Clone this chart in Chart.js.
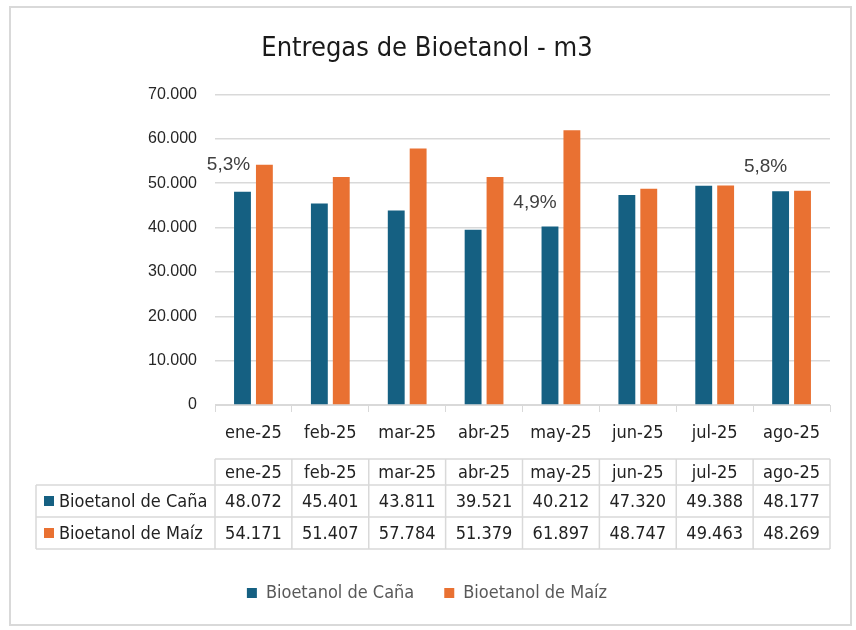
<!DOCTYPE html>
<html>
<head>
<meta charset="utf-8">
<script src="https://cdn.jsdelivr.net/npm/chart.js@4/dist/chart.umd.min.js"></script>
<style>
  html, body { margin: 0; padding: 0; background: #ffffff; }
  #wrap { width: 856px; height: 630px; position: relative; }
</style>
</head>
<body>
<div id="wrap"><canvas id="c" width="856" height="630"></canvas></div>
<script>
// ---- data ----
const categories = ['ene-25', 'feb-25', 'mar-25', 'abr-25', 'may-25', 'jun-25', 'jul-25', 'ago-25'];
const seriesNames = ['Bioetanol de Caña', 'Bioetanol de Maíz'];
const canaValues = [48072, 45401, 43811, 39521, 40212, 47320, 49388, 48177];
const maizValues = [54171, 51407, 57784, 51379, 61897, 48747, 49463, 48269];
const yTicks = [0, 10000, 20000, 30000, 40000, 50000, 60000, 70000];
const noteTexts = ['5,3%', '4,9%', '5,8%'];
const noteCategories = [0, 4, 7];

// ---- style ----
const colors = ['#156082', '#E97132'];
const noteOffsets = [[-14, -27], [-15, -24], [-15, -24]];
const narrow = "'Liberation Sans Narrow', 'DejaVu Sans Condensed', Arial, sans-serif";
const sans = "'Liberation Sans', Arial, sans-serif";

function fmt(v) {
  const s = String(Math.round(v));
  return s.replace(/\B(?=(\d{3})+(?!\d))/g, '.');
}

const framePlugin = {
  id: 'frame',
  beforeDraw(chart) {
    const ctx = chart.ctx;
    ctx.save();
    ctx.fillStyle = '#ffffff';
    ctx.fillRect(0, 0, chart.width, chart.height);
    ctx.strokeStyle = '#d9d9d9';
    ctx.lineWidth = 2;
    ctx.strokeRect(10, 7, 841, 618);
    ctx.restore();
  }
};

const tablePlugin = {
  id: 'dataTable',
  afterDraw(chart) {
    const ctx = chart.ctx;
    const area = chart.chartArea;
    const n = categories.length;
    const colW = (area.right - area.left) / n;
    const rows = [459, 485, 517, 549];
    const leftX = 36;
    ctx.save();
    ctx.strokeStyle = '#d9d9d9';
    ctx.lineWidth = 1.5;
    ctx.beginPath();
    ctx.moveTo(area.left, rows[0]); ctx.lineTo(area.right, rows[0]);
    for (let r = 1; r < rows.length; r++) {
      ctx.moveTo(leftX, rows[r]); ctx.lineTo(area.right, rows[r]);
    }
    for (let i = 0; i <= n; i++) {
      const x = area.left + i * colW;
      ctx.moveTo(x, rows[0]); ctx.lineTo(x, rows[3]);
    }
    ctx.moveTo(leftX, rows[1]); ctx.lineTo(leftX, rows[3]);
    ctx.stroke();

    ctx.font = '18px ' + narrow;
    ctx.fillStyle = '#222222';
    ctx.textAlign = 'center';
    ctx.textBaseline = 'middle';
    const seriesVals = [canaValues, maizValues];
    for (let i = 0; i < n; i++) {
      const cx = area.left + (i + 0.5) * colW;
      ctx.fillText(categories[i], cx, (rows[0] + rows[1]) / 2 + 1);
      for (let s = 0; s < 2; s++) {
        ctx.fillText(fmt(seriesVals[s][i]), cx, (rows[s + 1] + rows[s + 2]) / 2 + 1);
      }
    }
    ctx.textAlign = 'left';
    for (let s = 0; s < 2; s++) {
      const cy = (rows[s + 1] + rows[s + 2]) / 2;
      ctx.fillStyle = colors[s];
      ctx.fillRect(44, cy - 5, 10, 10);
      ctx.fillStyle = '#222222';
      ctx.fillText(seriesNames[s], 59, cy + 1);
    }
    ctx.restore();
  }
};

const notesPlugin = {
  id: 'notes',
  afterDatasetsDraw(chart) {
    const ctx = chart.ctx;
    const meta = chart.getDatasetMeta(0);
    ctx.save();
    ctx.font = '19px ' + sans;
    ctx.fillStyle = '#404040';
    ctx.textAlign = 'center';
    ctx.textBaseline = 'middle';
    noteTexts.forEach((t, k) => {
      const bar = meta.data[noteCategories[k]];
      ctx.fillText(t, bar.x + noteOffsets[k][0], bar.y + noteOffsets[k][1]);
    });
    ctx.restore();
  }
};

new Chart(document.getElementById('c'), {
  type: 'bar',
  data: {
    labels: categories,
    datasets: [
      { label: seriesNames[0], data: canaValues, backgroundColor: colors[0], borderWidth: 0,
        categoryPercentage: 0.57, barPercentage: 0.77 },
      { label: seriesNames[1], data: maizValues, backgroundColor: colors[1], borderWidth: 0,
        categoryPercentage: 0.57, barPercentage: 0.77 }
    ]
  },
  options: {
    responsive: false,
    animation: false,
    devicePixelRatio: 1,
    layout: { padding: { left: 24, right: 26, top: 0, bottom: 18 } },
    plugins: {
      title: {
        display: true,
        text: 'Entregas de Bioetanol - m3',
        color: '#1a1a1a',
        font: { family: narrow, size: 27, weight: 'normal' },
        padding: { top: 33, bottom: 29 }
      },
      legend: {
        display: true,
        position: 'bottom',
        labels: {
          boxWidth: 10, boxHeight: 10,
          color: '#595959',
          font: { family: narrow, size: 18 },
          padding: 30
        }
      },
      tooltip: { enabled: false }
    },
    scales: {
      x: {
        grid: { display: true, offset: true, drawOnChartArea: false, drawTicks: true, tickLength: 7, color: '#d9d9d9' },
        border: { display: true, color: '#d9d9d9', width: 1 },
        ticks: { color: '#222222', font: { family: narrow, size: 18 }, padding: 11, maxRotation: 0 },
        afterFit(scale) { scale.height = 149; }
      },
      y: {
        min: 0, max: 70000,
        afterBuildTicks(scale) { scale.ticks = yTicks.map(v => ({ value: v })); },
        grid: { color: '#d9d9d9', lineWidth: 1.5, drawTicks: false },
        border: { display: false },
        ticks: { color: '#262626', font: { family: sans, size: 16 }, padding: 18,
          callback: (v) => fmt(v) },
        afterFit(scale) { scale.width = 191; }
      }
    }
  },
  plugins: [framePlugin, tablePlugin, notesPlugin]
});
</script>
</body>
</html>
